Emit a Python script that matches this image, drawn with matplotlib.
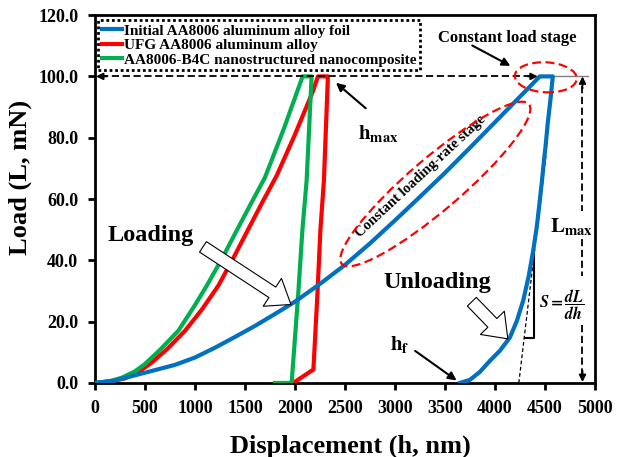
import matplotlib
matplotlib.use('Agg')
import matplotlib.pyplot as plt
from matplotlib.patches import Ellipse, FancyArrowPatch
from matplotlib.transforms import ScaledTranslation

plt.rcParams['font.family'] = ['Liberation Serif', 'DejaVu Serif']
plt.rcParams['font.weight'] = 'bold'
plt.rcParams['mathtext.fontset'] = 'stix'

# load-displacement curves (loading, hold, unloading)
blue_h = [0, 200, 400, 600, 800, 1000, 1200, 1400, 1600, 1800, 2000, 2250, 2500,
          2750, 3000, 3250, 3500, 3750, 4000, 4225, 4450,
          4580, 4555, 4530, 4510, 4490, 4470, 4450, 4420, 4383, 4340, 4283,
          4220, 4150, 4050, 3950, 3850, 3750, 3650]
blue_L = [0, 0.8, 2.5, 4.2, 5.9, 8.3, 11.5, 15, 18.6, 22.5, 26.5, 32.3, 38.5,
          45.5, 53, 60.7, 68.5, 76.7, 85, 92.5, 100,
          100, 92, 85, 78, 72, 65.5, 59.5, 51, 43, 35, 26.8,
          20.2, 14.8, 10.5, 7.2, 3.6, 1.0, 0]

red_h = [0, 150, 300, 430, 550, 720, 900, 1070, 1233, 1380, 1526, 1670, 1817,
         2000, 2183, 2230,
         2330, 2290, 2255, 2225, 2185, 2135, 1983]
red_L = [0, 0.5, 1.5, 3.5, 6.2, 11, 17, 24, 31.7, 40.5, 49.7, 58.7, 67.6,
         81, 95.4, 100,
         100, 66, 50, 29, 4.4, 3.3, 0]

green_h = [0, 150, 267, 400, 500, 650, 833, 1000, 1117, 1270, 1417, 1560, 1700,
           1890, 2077,
           2167, 2117, 2075, 2033, 1967, 1800]
green_L = [0, 0.6, 1.7, 3.8, 6.2, 10.8, 17, 25.4, 31.7, 40.5, 49.7, 58.5, 67,
           83, 100,
           100, 66, 50, 29, 0, 0]

labels = ['Initial AA8006 aluminum alloy foil',
          'UFG AA8006 aluminum alloy',
          'AA8006-B4C nanostructured nanocomposite']
colors = ['#0070C0', '#FF0000', '#00B050']

x_ticks = list(range(0, 5001, 500))
y_ticks = list(range(0, 121, 20))

fig = plt.figure(figsize=(6.17, 4.57), dpi=100)
ax = fig.add_axes([0.154, 0.162, 0.81, 0.805])

l1, = ax.plot(blue_h, blue_L, color=colors[0], lw=3, label=labels[0], zorder=4)
l2, = ax.plot(red_h, red_L, color=colors[1], lw=3, label=labels[1], zorder=3)
l3, = ax.plot(green_h, green_L, color=colors[2], lw=3, label=labels[2], zorder=3)

ax.set_xlim(0, 5000)
ax.set_ylim(0, 120)
ax.set_xticks(x_ticks)
ax.set_yticks(y_ticks)
ax.set_yticklabels(['%.1f' % v for v in y_ticks])
ax.tick_params(direction='out', length=5, width=2, labelsize=13, pad=7)
for s in ax.spines.values():
    s.set_linewidth(2)

ax.set_xlabel('Displacement (h, nm)', fontsize=19, fontweight='bold')
ax.set_ylabel('Load (L, mN)', fontsize=19, fontweight='bold')
ax.xaxis.set_label_coords(0.51, -0.14)
ax.yaxis.set_label_coords(-0.126, 0.56)

leg = ax.legend(handles=[l1, l2, l3], loc='upper left', bbox_to_anchor=(0.006, 0.986),
                borderaxespad=0, fontsize=11, handlelength=1.3, handletextpad=0.15,
                labelspacing=0.05, borderpad=0.25, fancybox=False, framealpha=1)
fr = leg.get_frame()
fr.set_edgecolor('black')
fr.set_linestyle((0, (1, 1)))
fr.set_linewidth(2)
leg.set_zorder(6)

# reference lines at max load
ax.plot([4580, 4930], [100, 100], color='#808080', lw=1, zorder=2)
ax.plot([60, 4380], [100, 100], color='black', lw=1.3, ls=(0, (4, 2)), zorder=5)
head = dict(arrowstyle='-|>', color='black', lw=1.3, mutation_scale=10, shrinkA=0, shrinkB=0)
ax.annotate('', xy=(10, 100), xytext=(120, 100), arrowprops=head)
ax.annotate('', xy=(4430, 100), xytext=(4330, 100), arrowprops=head)

# L_max vertical arrow
xv = 4877
ax.plot([xv, xv], [97, 56], color='black', lw=1.3, ls=(0, (4, 2)))
ax.plot([xv, xv], [47, 35], color='black', lw=1.3, ls=(0, (4, 2)))
ax.plot([xv, xv], [19, 3], color='black', lw=1.3, ls=(0, (4, 2)))
ax.annotate('', xy=(xv, 100), xytext=(xv, 96), arrowprops=head)
ax.annotate('', xy=(xv, 0.3), xytext=(xv, 4), arrowprops=head)
ax.text(4770, 51, r'$\mathbf{L}_{\mathbf{max}}$', fontsize=15, ha='center', va='center')
ax.text(4675, 25.5, r'$S=\dfrac{dL}{dh}$', fontsize=11.5, ha='center', va='center',
        fontweight='normal')

# tangent and slope triangle
ax.plot([4240, 4510], [0, 74], color='black', lw=0.9, ls=(0, (3, 2)))
ax.plot([4300, 4393, 4393], [14.8, 14.8, 42.6], color='black', lw=1.5)

# ellipses
def px_ellipse(cx, cy, w, h, ang):
    tr = fig.dpi_scale_trans + ScaledTranslation(cx, cy, ax.transData)
    ax.add_patch(Ellipse((0, 0), w, h, angle=ang, transform=tr, fill=False,
                         ec='red', lw=1.6, ls=(0, (4, 2)), zorder=6))

px_ellipse(4510, 99.7, 0.62, 0.30, -3)
px_ellipse(3405, 64.9, 2.46, 0.52, 40.5)

ax.text(3260, 67.5, 'Constant loading-rate stage', fontsize=10.5, rotation=43,
        ha='center', va='center', rotation_mode='anchor')
ax.text(4120, 112.5, 'Constant load stage', fontsize=12, ha='center', va='center')
ax.annotate('', xy=(4180, 103), xytext=(3750, 110.5),
            arrowprops=dict(arrowstyle='-|>', color='black', lw=1.5, mutation_scale=12))

ax.text(2830, 81.5, r'$\mathbf{h}_{\mathbf{max}}$', fontsize=15, ha='center', va='center')
ax.annotate('', xy=(2390, 98.5), xytext=(2730, 89),
            arrowprops=dict(arrowstyle='-|>', color='black', lw=1.5, mutation_scale=12))

ax.text(3050, 12.5, r'$\mathbf{h}_{\mathbf{f}}$', fontsize=15, ha='center', va='center')
ax.annotate('', xy=(3640, 0.3), xytext=(3180, 11),
            arrowprops=dict(arrowstyle='-|>', color='black', lw=1.5, mutation_scale=12))

ax.text(560, 48, 'Loading', fontsize=17.5, ha='center', va='center')
ax.text(3420, 32.7, 'Unloading', fontsize=17.5, ha='center', va='center')

style = 'simple,head_width=2.4,head_length=1.6,tail_width=0.9'
for tail, tip in [((1080, 44.4), (1960, 25.6)), ((3770, 26.5), (4130, 14.4))]:
    ax.add_patch(FancyArrowPatch(tail, tip, arrowstyle=style, mutation_scale=10,
                                 fc='white', ec='black', lw=0.8, zorder=5,
                                 shrinkA=0, shrinkB=0))

fig.savefig('out.png', dpi=100)
